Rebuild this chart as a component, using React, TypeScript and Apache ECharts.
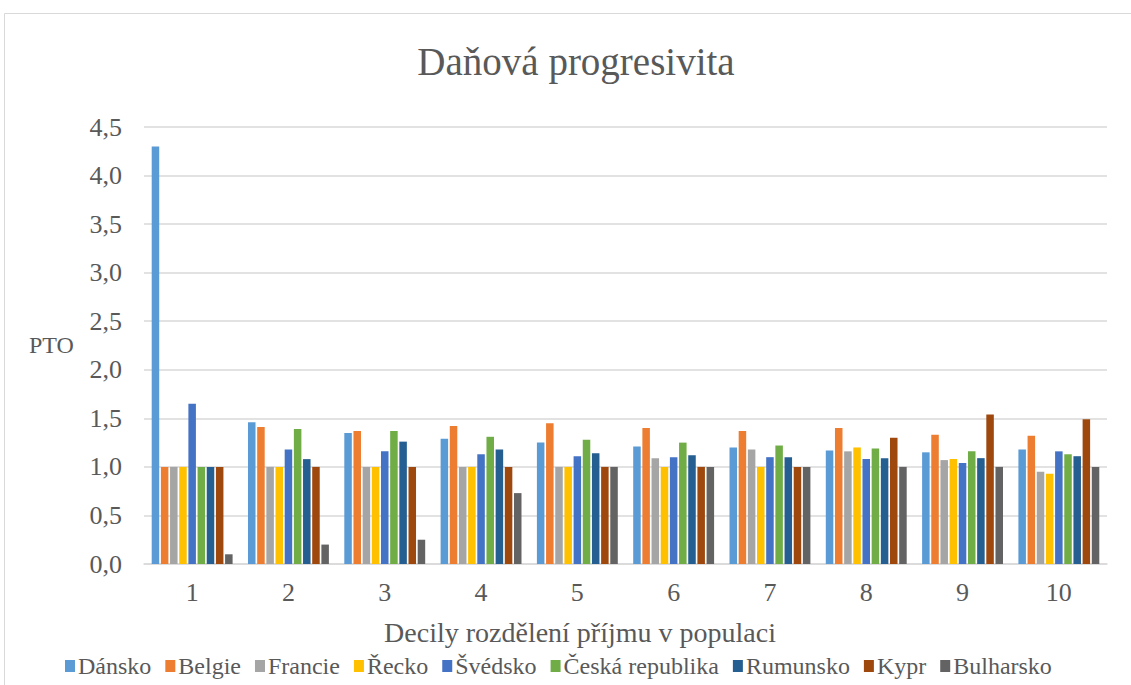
import React, { useEffect, useRef } from "react";
import * as echarts from "echarts";

const deciles = ["1", "2", "3", "4", "5", "6", "7", "8", "9", "10"];

const countries = [
  "Dánsko",
  "Belgie",
  "Francie",
  "Řecko",
  "Švédsko",
  "Česká republika",
  "Rumunsko",
  "Kypr",
  "Bulharsko",
];

const colors = [
  "#5B9BD5",
  "#ED7D31",
  "#A5A5A5",
  "#FFC000",
  "#4472C4",
  "#70AD47",
  "#255E91",
  "#9E480E",
  "#636363",
];

const dansko = [4.3, 1.46, 1.35, 1.29, 1.25, 1.21, 1.2, 1.17, 1.15, 1.18];
const belgie = [1.0, 1.41, 1.37, 1.42, 1.45, 1.4, 1.37, 1.4, 1.33, 1.32];
const francie = [1.0, 1.0, 1.0, 1.0, 1.0, 1.09, 1.18, 1.16, 1.07, 0.95];
const recko = [1.0, 1.0, 1.0, 1.0, 1.0, 1.0, 1.0, 1.2, 1.08, 0.93];
const svedsko = [1.65, 1.18, 1.16, 1.13, 1.11, 1.1, 1.1, 1.08, 1.04, 1.16];
const ceskaRepublika = [1.0, 1.39, 1.37, 1.31, 1.28, 1.25, 1.22, 1.19, 1.16, 1.13];
const rumunsko = [1.0, 1.08, 1.26, 1.18, 1.14, 1.12, 1.1, 1.09, 1.09, 1.11];
const kypr = [1.0, 1.0, 1.0, 1.0, 1.0, 1.0, 1.0, 1.3, 1.54, 1.49];
const bulharsko = [0.1, 0.2, 0.25, 0.73, 1.0, 1.0, 1.0, 1.0, 1.0, 1.0];

const seriesValues = [
  dansko,
  belgie,
  francie,
  recko,
  svedsko,
  ceskaRepublika,
  rumunsko,
  kypr,
  bulharsko,
];

const FONT = "'Liberation Serif', 'DejaVu Serif', serif";
const TEXT = "#595959";

export default function App() {
  const ref = useRef<HTMLDivElement>(null);

  useEffect(() => {
    if (!ref.current) return;
    const chart = echarts.init(ref.current, undefined, { renderer: "svg" });
    chart.setOption({
      animation: false,
      backgroundColor: "#ffffff",
      textStyle: { fontFamily: FONT, color: TEXT },
      title: {
        text: "Daňová progresivita",
        left: 571,
        top: 37,
        textAlign: "center",
        textStyle: {
          fontFamily: FONT,
          fontSize: 39,
          fontWeight: "normal",
          color: TEXT,
        },
      },
      grid: { left: 144, right: 24, top: 127, bottom: 121, containLabel: false },
      legend: {
        bottom: 2,
        left: 60,
        itemWidth: 10,
        itemHeight: 12,
        itemGap: 14,
        icon: "rect",
        textStyle: { fontFamily: FONT, fontSize: 24, color: TEXT, padding: [0, 0, 0, -2] },
        data: countries,
      },
      graphic: [
        {
          type: "rect",
          shape: { x: 4.5, y: 13.5, width: 1200, height: 800 },
          style: { fill: "none", stroke: "#D9D9D9", lineWidth: 1 },
          silent: true,
        },
        {
          type: "text",
          left: 29,
          top: 333,
          style: {
            text: "PTO",
            fontFamily: FONT,
            fontSize: 24,
            fill: TEXT,
          },
        },
        {
          type: "text",
          x: 580,
          y: 632,
          style: {
            text: "Decily rozdělení příjmu v populaci",
            fontFamily: FONT,
            fontSize: 28,
            fill: TEXT,
            align: "center",
            verticalAlign: "middle",
          },
        },
      ],
      xAxis: {
        type: "category",
        data: deciles,
        axisLine: { lineStyle: { color: "#D9D9D9", width: 1.5 } },
        axisTick: { show: false },
        axisLabel: { fontFamily: FONT, fontSize: 26, color: TEXT, margin: 15 },
      },
      yAxis: {
        type: "value",
        min: 0,
        max: 4.5,
        interval: 0.5,
        axisLine: { show: false },
        axisTick: { show: false },
        splitLine: { lineStyle: { color: "#D9D9D9", width: 1.5 } },
        axisLabel: {
          fontFamily: FONT,
          fontSize: 26,
          color: TEXT,
          margin: 22,
          formatter: (v: number) => v.toFixed(1).replace(".", ","),
        },
      },
      series: countries.map((name, i) => ({
        name,
        type: "bar",
        data: seriesValues[i],
        barGap: "22%",
        barCategoryGap: "16%",
        itemStyle: { color: colors[i] },
      })),
    });
    return () => chart.dispose();
  }, []);

  return (
    <div
      ref={ref}
      style={{ position: "fixed", left: 0, top: 0, width: 1131, height: 685 }}
    />
  );
}
